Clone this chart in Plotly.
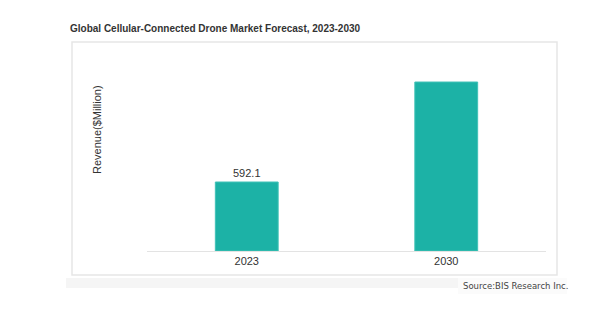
import plotly.graph_objects as go

years = ["2023", "2030"]
revenue = [592.1, 1450]
bar_labels = ["592.1", ""]

title_text = "<b>Global Cellular-Connected Drone Market Forecast, 2023-2030</b>"
y_title = "Revenue($Million)"
source_text = "Source:BIS Research Inc."

W, H = 600, 325
L, R, T, B = 147, 54, 62, 74
pw, ph = W - L - R, H - T - B

def px(x):
    return (x - L) / pw

def py(y):
    return (H - B - y) / ph

fig = go.Figure()
fig.add_trace(go.Bar(
    x=years, y=revenue, text=bar_labels, textposition="outside",
    marker=dict(color="#1cb2a6", line=dict(width=1, color="#40c2b7")), width=0.315,
    textfont=dict(family="Liberation Sans, Arial", size=11, color="#333333"),
    cliponaxis=False,
))

shapes = [
    dict(type="rect", xref="paper", yref="paper", x0=px(72), x1=px(557), y0=py(275), y1=py(42),
         line=dict(color="#e6e6e6", width=1.5), fillcolor="rgba(0,0,0,0)", layer="below"),
    dict(type="rect", xref="paper", yref="paper", x0=px(66), x1=px(458), y0=py(288), y1=py(278),
         line=dict(width=0), fillcolor="#f5f5f5", layer="below"),
    dict(type="rect", xref="paper", yref="paper", x0=px(458), x1=px(567), y0=py(294), y1=py(278),
         line=dict(width=0), fillcolor="#fbfbfb", layer="below"),
]

annotations = [
    dict(text=title_text, xref="paper", yref="paper", x=px(68), y=py(29), xanchor="left", yanchor="middle",
         showarrow=False, font=dict(family="Liberation Sans, Arial", size=10, color="#333333")),
    dict(text=y_title, xref="paper", yref="paper", x=px(97), y=py(130), xanchor="center", yanchor="middle",
         textangle=-90, showarrow=False, font=dict(family="Liberation Sans, Arial", size=11, color="#333333")),
    dict(text=source_text, xref="paper", yref="paper", x=px(461), y=py(286), xanchor="left", yanchor="middle",
         showarrow=False, font=dict(family="DejaVu Sans", size=8.5, color="#444444")),
]

fig.update_layout(
    width=W, height=H, margin=dict(l=L, r=R, t=T, b=B, pad=0),
    paper_bgcolor="white", plot_bgcolor="white", showlegend=False,
    shapes=shapes, annotations=annotations,
    xaxis=dict(range=[-0.5, 1.5], showline=True, linecolor="#e3e3e3", linewidth=1, ticks="",
               tickfont=dict(family="Liberation Sans, Arial", size=11, color="#333333"), showgrid=False),
    yaxis=dict(range=[0, (H - B - T) / (69 / 592.1)], visible=False, showgrid=False, zeroline=False),
)

fig.write_html("out.html")
